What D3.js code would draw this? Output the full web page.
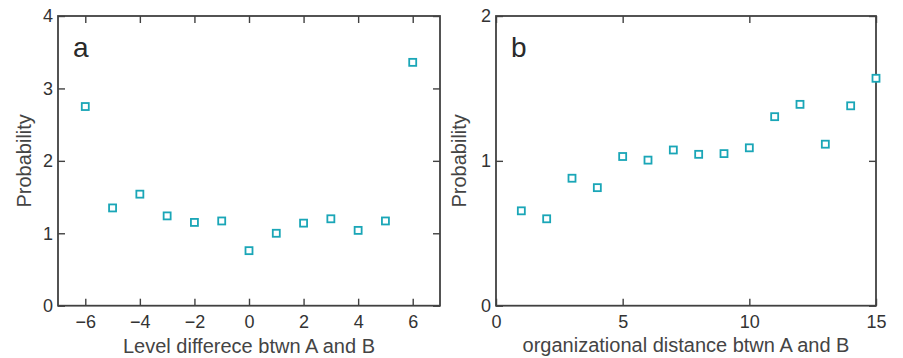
<!DOCTYPE html>
<html>
<head>
<meta charset="utf-8">
<script src="https://cdn.jsdelivr.net/npm/d3@7"></script>
<style>
  html, body { margin: 0; padding: 0; background: #fff; }
  svg { display: block; font-family: "Liberation Sans", Arial, Helvetica, sans-serif; }
</style>
</head>
<body>
<svg id="chart" width="903" height="358"></svg>
<script>
// Panel a: probability by level difference between A and B
const levelDiff = [-6, -5, -4, -3, -2, -1, 0, 1, 2, 3, 4, 5, 6];
const levelProb = [2.75, 1.35, 1.54, 1.24, 1.15, 1.17, 0.76, 1.00, 1.14, 1.20, 1.04, 1.17, 3.36];
const levelXTicks = [-6, -4, -2, 0, 2, 4, 6];
const levelYTicks = [0, 1, 2, 3, 4];

// Panel b: probability by organizational distance between A and B
const orgDist = [1, 2, 3, 4, 5, 6, 7, 8, 9, 10, 11, 12, 13, 14, 15];
const orgProb = [0.655, 0.60, 0.88, 0.815, 1.03, 1.005, 1.075, 1.045, 1.05, 1.09, 1.305, 1.39, 1.115, 1.38, 1.57];
const orgXTicks = [0, 5, 10, 15];
const orgYTicks = [0, 1, 2];

const svg = d3.select("#chart");
const frameColor = "#414141";
const textColor = "#333";
const markColor = "#1aa6b7";
const intFmt = d3.format("d");

function drawPanel(opt) {
  const { left, right, top, bottom, xDomain, yDomain, xTicks, yTicks, xs, ys,
          letter, xLabel, xLabelY, yLabelX } = opt;
  const x = d3.scaleLinear().domain(xDomain).range([left, right]);
  const y = d3.scaleLinear().domain(yDomain).range([bottom, top]);
  const g = svg.append("g");
  const tick = 7;

  const styleAxis = sel => {
    sel.select(".domain").remove();
    sel.selectAll(".tick line").attr("stroke", frameColor).attr("stroke-width", 1.4);
    sel.selectAll(".tick text").attr("fill", textColor).style("font-size", "18px");
  };

  g.append("g").attr("transform", `translate(0,${bottom})`)
    .call(d3.axisBottom(x).tickValues(xTicks).tickFormat(intFmt)
      .tickSizeInner(-tick).tickSizeOuter(0).tickPadding(10))
    .call(styleAxis);
  g.append("g").attr("transform", `translate(0,${top})`)
    .call(d3.axisTop(x).tickValues(xTicks).tickSizeInner(-tick).tickSizeOuter(0).tickFormat(""))
    .call(styleAxis);
  g.append("g").attr("transform", `translate(${left},0)`)
    .call(d3.axisLeft(y).tickValues(yTicks).tickFormat(intFmt)
      .tickSizeInner(-tick).tickSizeOuter(0).tickPadding(5))
    .call(styleAxis);
  g.append("g").attr("transform", `translate(${right},0)`)
    .call(d3.axisRight(y).tickValues(yTicks).tickSizeInner(-tick).tickSizeOuter(0).tickFormat(""))
    .call(styleAxis);

  g.append("rect")
    .attr("x", left).attr("y", top)
    .attr("width", right - left).attr("height", bottom - top)
    .attr("fill", "none").attr("stroke", frameColor).attr("stroke-width", 1.8);

  const s = 7;
  g.append("g").selectAll("rect")
    .data(xs.map((d, i) => [d, ys[i]]))
    .join("rect")
    .attr("x", d => x(d[0]) - s / 2)
    .attr("y", d => y(d[1]) - s / 2)
    .attr("width", s).attr("height", s)
    .attr("fill", "#fff")
    .attr("stroke", markColor).attr("stroke-width", 1.8);

  g.append("text")
    .attr("x", left + 15).attr("y", top + 41)
    .attr("fill", "#2a2a2a").style("font-size", "28px")
    .text(letter);

  g.append("text")
    .attr("x", (left + right) / 2).attr("y", xLabelY)
    .attr("text-anchor", "middle")
    .attr("fill", "#444").style("font-size", "20px")
    .text(xLabel);

  g.append("text")
    .attr("transform", `translate(${yLabelX},${(top + bottom) / 2}) rotate(-90)`)
    .attr("text-anchor", "middle")
    .attr("fill", "#444").style("font-size", "20px")
    .text("Probability");
}

drawPanel({
  left: 58, right: 440, top: 16, bottom: 305.7,
  xDomain: [-7, 7], yDomain: [0, 4],
  xTicks: levelXTicks, yTicks: levelYTicks,
  xs: levelDiff, ys: levelProb,
  letter: "a", xLabel: "Level differece btwn A and B",
  xLabelY: 353, yLabelX: 31
});

drawPanel({
  left: 496, right: 876, top: 16, bottom: 305.7,
  xDomain: [0, 15], yDomain: [0, 2],
  xTicks: orgXTicks, yTicks: orgYTicks,
  xs: orgDist, ys: orgProb,
  letter: "b", xLabel: "organizational distance btwn A and B",
  xLabelY: 352, yLabelX: 466
});
</script>
</body>
</html>
